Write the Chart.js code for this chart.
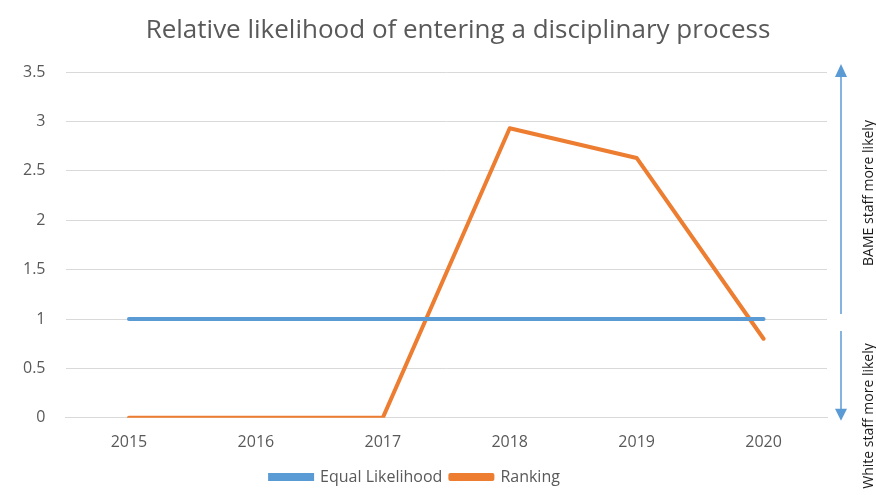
<!DOCTYPE html>
<html>
<head>
<meta charset="utf-8">
<script src="https://cdn.jsdelivr.net/npm/chart.js@4"></script>
<style>
  html, body { margin: 0; padding: 0; background: #ffffff; }
  #wrap { width: 876px; height: 495px; }
</style>
</head>
<body>
<div id="wrap"><canvas id="chart" width="876" height="495"></canvas></div>
<script>
// --------------------------------------------------
//  DATA
// --------------------------------------------------
const years = ["2015", "2016", "2017", "2018", "2019", "2020"];
const equalLikelihood = [1, 1, 1, 1, 1, 1];
const ranking = [0, 0, 0, 2.93, 2.63, 0.8];
const chartTitle = "Relative likelihood of entering a disciplinary process";

const textGrey = "#595959";
const gridGrey = "#d9d9d9";
const fontFamily = "'Open Sans', 'DejaVu Sans', sans-serif";

// --------------------------------------------------
//  TITLE + SIDE ANNOTATION (arrows + rotated labels)
// --------------------------------------------------
const sideNotes = {
    id: "sideNotes",
    afterDraw(chart) {
        const ctx = chart.ctx;
        const y = chart.scales.y;
        const x = 841;
        const yOne = y.getPixelForValue(1);
        const yTop = y.getPixelForValue(3.5);
        const yZero = y.getPixelForValue(0);

        // title (centred like the original, not over the padded area)
        ctx.save();
        ctx.fillStyle = textGrey;
        ctx.font = "26px " + fontFamily;
        ctx.textAlign = "center";
        ctx.textBaseline = "middle";
        ctx.fillText(chartTitle, 458, 31);
        ctx.restore();

        ctx.save();
        ctx.strokeStyle = "#5b9bd5";
        ctx.fillStyle = "#5b9bd5";
        ctx.lineWidth = 1.5;

        // up arrow
        ctx.beginPath();
        ctx.moveTo(x, yOne - 5);
        ctx.lineTo(x, yTop + 4);
        ctx.stroke();
        ctx.beginPath();
        ctx.moveTo(x, yTop - 8);
        ctx.lineTo(x - 6, yTop + 5);
        ctx.lineTo(x + 6, yTop + 5);
        ctx.closePath();
        ctx.fill();

        // down arrow
        ctx.beginPath();
        ctx.moveTo(x, yOne + 12);
        ctx.lineTo(x, yZero - 6);
        ctx.stroke();
        ctx.beginPath();
        ctx.moveTo(x, yZero + 3);
        ctx.lineTo(x - 6, yZero - 9);
        ctx.lineTo(x + 6, yZero - 9);
        ctx.closePath();
        ctx.fill();

        // rotated labels
        ctx.fillStyle = "#1a1a1a";
        ctx.font = "14px " + fontFamily;
        ctx.textAlign = "center";
        ctx.textBaseline = "middle";
        ctx.translate(869, 193);
        ctx.rotate(-Math.PI / 2);
        ctx.fillText("BAME staff more likely", 0, 0);
        ctx.restore();

        ctx.save();
        ctx.fillStyle = "#1a1a1a";
        ctx.font = "14px " + fontFamily;
        ctx.textAlign = "center";
        ctx.textBaseline = "middle";
        ctx.translate(869, 416);
        ctx.rotate(-Math.PI / 2);
        ctx.fillText("White staff more likely", 0, 0);
        ctx.restore();
    }
};

// --------------------------------------------------
//  CHART
// --------------------------------------------------
new Chart(document.getElementById("chart"), {
    type: "line",
    data: {
        labels: years,
        datasets: [
            {
                label: "Equal Likelihood",
                data: equalLikelihood,
                borderColor: "#5b9bd5",
                backgroundColor: "#5b9bd5",
                borderWidth: 4,
                borderCapStyle: "round",
                pointRadius: 0,
                tension: 0
            },
            {
                label: "Ranking",
                data: ranking,
                borderColor: "#ed7d31",
                backgroundColor: "#ed7d31",
                borderWidth: 4,
                borderCapStyle: "round",
                borderJoinStyle: "round",
                pointRadius: 0,
                tension: 0
            }
        ]
    },
    options: {
        responsive: false,
        animation: false,
        layout: { padding: { left: 3, right: 49, top: 72, bottom: 0 } },
        plugins: {
            title: { display: false },
            legend: {
                position: "bottom",
                labels: {
                    color: textGrey,
                    font: { family: fontFamily, size: 16 },
                    boxWidth: 42,
                    boxHeight: 4,
                    padding: 8
                }
            },
            tooltip: { enabled: false }
        },
        scales: {
            x: {
                offset: true,
                grid: { display: false },
                border: { color: gridGrey },
                ticks: {
                    color: textGrey,
                    font: { family: fontFamily, size: 16 },
                    padding: 7
                },
                afterFit: scale => { scale.height += 2; }
            },
            y: {
                min: 0,
                max: 3.5,
                grid: { color: gridGrey, drawTicks: false },
                border: { display: false },
                ticks: {
                    stepSize: 0.5,
                    color: textGrey,
                    font: { family: fontFamily, size: 16 },
                    padding: 20,
                    callback: v => String(v)
                }
            }
        }
    },
    plugins: [sideNotes]
});
</script>
</body>
</html>
